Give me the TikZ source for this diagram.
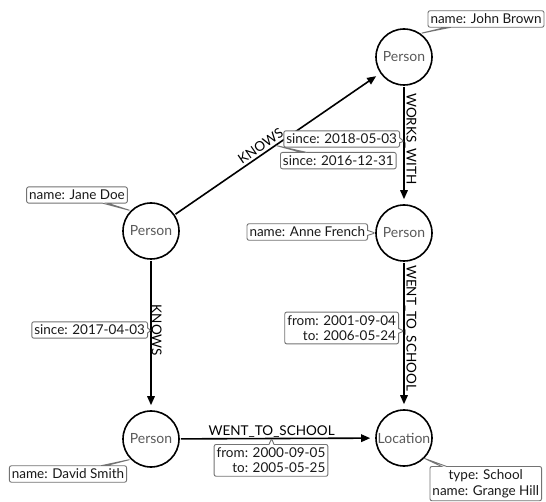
\documentclass[tikz,border=0pt]{standalone}
\usepackage{fontspec}
\setmainfont{Lato}
\usetikzlibrary{arrows.meta,shapes.callouts}

\begin{document}
\begin{tikzpicture}[x=1pt,y=-1pt,
  entity/.style={circle,draw,line width=1.6pt,minimum size=56pt,inner sep=0pt,
    font=\fontsize{14}{16}\selectfont,text=black!65},
  rel/.style={line width=1.6pt,-{Triangle[length=9pt,width=7.5pt]},
    shorten >=5pt,shorten <=1pt},
  rellabel/.style={font=\fontsize{13.5}{16}\selectfont,inner sep=0pt},
  prop/.style={rectangle callout,draw=black!55,line width=0.9pt,rounded corners=2pt,
    fill=white,font=\fontsize{13.5}{15.5}\selectfont,text=black!90,
    inner xsep=2.5pt,inner ysep=3.2pt,callout pointer width=5pt}
]
\useasboundingbox (0,0) rectangle (546,502);

% entities
\node[entity] (jb)  at (404,57)  {Person};
\node[entity] (jd)  at (151,231) {Person};
\node[entity] (af)  at (404,233) {Person};
\node[entity] (ds)  at (151,439) {Person};
\node[entity] (loc) at (404,438) {Location};

% relationships
\draw[rel] (jd) -- node[rellabel,sloped,above,pos=0.44,inner sep=2.5pt]{KNOWS}
  coordinate[pos=0.49] (k1) (jb);
\draw[rel] (jb) -- node[rellabel,rotate=-90,anchor=south,pos=0.45]{WORKS\_WITH}
  coordinate[pos=0.47] (ww) (af);
\draw[rel] (af) -- node[rellabel,rotate=-90,anchor=south,pos=0.45]{WENT\_TO\_SCHOOL}
  coordinate[pos=0.47] (wt) (loc);
\draw[rel] (jd) -- node[rellabel,rotate=-90,anchor=south,pos=0.47]{KNOWS}
  coordinate[pos=0.47] (k2) (ds);
\draw[rel] (ds) -- node[rellabel,above,pos=0.47]{WENT\_TO\_SCHOOL}
  coordinate[pos=0.47] (ws) (loc);

% node properties
\node[prop,callout absolute pointer={(jb.55)}] (pjb) at (486,19) {name: John Brown};
\node[prop,callout absolute pointer={(jd.135)}] (pjd) at (77,195) {name: Jane Doe};
\node[prop,anchor=east,callout absolute pointer={(af.west)}] (paf) at (368,232) {name: Anne French};
\node[prop,callout absolute pointer={(ds.225)}] (pds) at (68,474) {name: David Smith};
\node[prop,align=center,anchor=north east,callout absolute pointer={(loc.-45)}] (ploc)
  at (542,466) {type: School\\name: Grange Hill};

% relationship properties
\node[prop,anchor=east,callout absolute pointer={(ww)}] (pww) at (400,139) {since: 2018-05-03};
\node[prop,anchor=north west,callout absolute pointer={(k1)}] (pk1) at (280,152) {since: 2016-12-31};
\node[prop,anchor=east,align=right,callout absolute pointer={(wt)}] (pwt) at (399,328)
  {from: 2001-09-04\\to: 2006-05-24};
\node[prop,anchor=east,callout absolute pointer={(k2)}] (pk2) at (148,330) {since: 2017-04-03};
\node[prop,anchor=north,align=right,callout absolute pointer={(ws)}] (pws) at (271,444)
  {from: 2000-09-05\\to: 2005-05-25};
\end{tikzpicture}
\end{document}
